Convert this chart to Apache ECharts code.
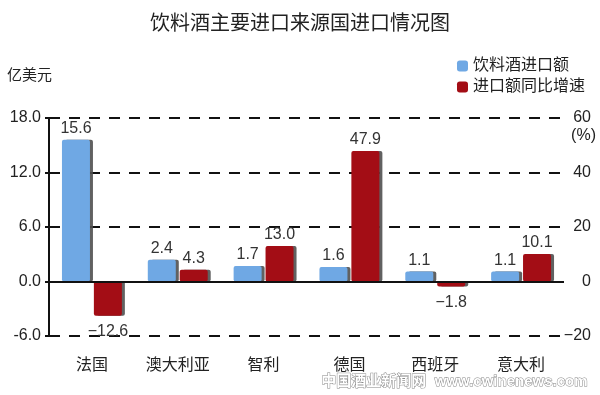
<!DOCTYPE html>
<html><head><meta charset="utf-8">
<script src="https://cdn.jsdelivr.net/npm/echarts@6/dist/echarts.min.js"></script>
<style>html,body{margin:0;padding:0;background:#fff}#c{width:600px;height:395px}</style>
</head><body><div id="c"></div>
<script>
const categories = ['法国','澳大利亚','智利','德国','西班牙','意大利'];
const importValue = [15.6, 2.4, 1.7, 1.6, 1.1, 1.1];
const growthRate = [-12.6, 4.3, 13.0, 47.9, -1.8, 10.1];
const leftTicks = { min: -6, max: 18, interval: 6 };
const rightTicks = { min: -20, max: 60, interval: 20 };

const FONT = '"Liberation Sans", Arial, "Noto Sans CJK SC", sans-serif';
const chart = echarts.init(document.getElementById('c'), null, { renderer: 'canvas' });

const shadow = { shadowColor: 'rgba(80,80,80,0.9)', shadowBlur: 0, shadowOffsetX: 3, shadowOffsetY: 0 };
const fmt = v => (v < 0 ? '\u2212' + Math.abs(v).toFixed(1) : v.toFixed(1));
const lbl = { show: true, fontFamily: FONT, fontSize: 16, color: '#333', distance: 3,
  formatter: p => fmt(p.value) };

chart.setOption({
  animation: false,
  textStyle: { fontFamily: FONT },
  title: { text: '饮料酒主要进口来源国进口情况图', left: 'center', top: 9,
    textStyle: { fontSize: 20, fontWeight: 'normal', color: '#222', fontFamily: FONT } },
  legend: { orient: 'vertical', right: 10, top: 53, itemWidth: 11, itemHeight: 11, itemGap: 5,
    icon: 'roundRect',
    textStyle: { fontSize: 16, color: '#222', fontFamily: FONT },
    data: ['饮料酒进口额', '进口额同比增速'] },
  grid: { left: 49, right: 36, top: 118, bottom: 59 },
  xAxis: { type: 'category', data: categories,
    axisLine: { show: false }, axisTick: { show: false },
    axisLabel: { fontSize: 16, color: '#222', margin: 22, fontFamily: FONT } },
  yAxis: [
    { type: 'value', min: leftTicks.min, max: leftTicks.max, interval: leftTicks.interval,
      axisLine: { show: true, lineStyle: { color: '#111', width: 2 } },
      axisTick: { show: true, length: 4, lineStyle: { color: '#111', width: 2 } },
      axisLabel: { fontSize: 16, color: '#222', margin: 8, formatter: v => v.toFixed(1), fontFamily: FONT },
      splitLine: { show: true, lineStyle: { color: '#111', width: 2, type: [11, 9] } } },
    { type: 'value', min: rightTicks.min, max: rightTicks.max, interval: rightTicks.interval,
      position: 'right',
      axisLine: { show: false }, axisTick: { show: false },
      axisLabel: { fontSize: 16, color: '#222', margin: 27, align: 'right', fontFamily: FONT,
        formatter: v => (v < 0 ? '\u2212' + Math.abs(v) : String(v)) },
      splitLine: { show: false } }
  ],
  series: [
    { name: '饮料酒进口额', type: 'bar', yAxisIndex: 0, barWidth: 28, barGap: '14%',
      itemStyle: Object.assign({ color: '#6fa8e4', borderRadius: 2 }, shadow),
      label: Object.assign({ position: 'top' }, lbl),
      data: importValue,
      markLine: { silent: true, symbol: 'none', label: { show: false },
        lineStyle: { color: '#111', width: 2, type: 'solid' }, data: [{ yAxis: 0 }] } },
    { name: '进口额同比增速', type: 'bar', yAxisIndex: 1, barWidth: 28,
      itemStyle: Object.assign({ color: '#a30d15', borderRadius: 2 }, shadow),
      label: lbl,
      data: growthRate.map(v => ({ value: v, label: { position: v < 0 ? 'bottom' : 'top', distance: v < 0 ? 8 : 3 } })) }
  ],
  graphic: [
    { type: 'text', left: 7, top: 68, style: { text: '亿美元', fontSize: 15, fill: '#222', fontFamily: FONT } },
    { type: 'text', right: 4, top: 128, style: { text: '(%)', fontSize: 16, fill: '#222', fontFamily: FONT } },
    { type: 'text', right: 12, top: 374, style: { text: '中国酒业新闻网  www.cwinenews.com', fontSize: 15,
      fill: '#fff', stroke: '#888', lineWidth: 1, fontFamily: FONT, fontWeight: 'bold' } }
  ]
});
</script></body></html>
